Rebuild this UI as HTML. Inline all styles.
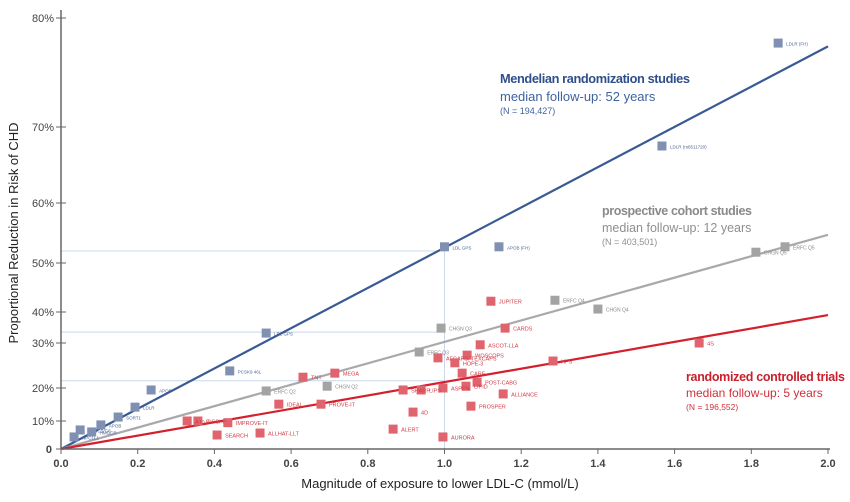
<!DOCTYPE html>
<html><head><meta charset="utf-8"><style>
body{margin:0;background:#fff;font-family:"Liberation Sans",sans-serif}
svg text{font-family:"Liberation Sans",sans-serif}
</style></head><body>
<svg id="c" width="850" height="497" xmlns="http://www.w3.org/2000/svg">
<g id="grid"></g><g id="lines"></g><g id="marks"></g><g id="axes"></g>
<text x="500" y="83" font-size="12.8" font-weight="bold" fill="#2f4f8a" textLength="190">Mendelian randomization studies</text>
<text x="500" y="101" font-size="13" fill="#3f63a0">median follow-up: 52 years</text>
<text x="500" y="114" font-size="9" fill="#3f63a0">(N = 194,427)</text>
<text x="602" y="215" font-size="12.5" font-weight="bold" fill="#8a8a8a" textLength="150">prospective cohort studies</text>
<text x="602" y="232" font-size="12.5" fill="#8f8f8f">median follow-up: 12 years</text>
<text x="602" y="245" font-size="9" fill="#8f8f8f">(N = 403,501)</text>
<text x="686" y="381" font-size="12.5" font-weight="bold" fill="#c8202c" textLength="159">randomized controlled trials</text>
<text x="686" y="397" font-size="12" fill="#d0303a">median follow-up: 5 years</text>
<text x="686" y="410" font-size="8.5" fill="#d0303a">(N = 196,552)</text>
<text x="440" y="488" font-size="13" text-anchor="middle" fill="#222">Magnitude of exposure to lower LDL-C (mmol/L)</text>
<text transform="translate(18,233) rotate(-90)" font-size="13" text-anchor="middle" fill="#222">Proportional Reduction in Risk of CHD</text>
</svg>
<script>
const yTickVals=[0,10,20,30,40,50,60,70,80];
const yTickPx=[449,421,388,343,312,263,203,127,18];
const yTickLabels=["0","10%","20%","30%","40%","50%","60%","70%","80%"];
const xTicks=[0,0.2,0.4,0.6,0.8,1.0,1.2,1.4,1.6,1.8,2.0];
const mrNames=["LDLR (FH)","LDLR (rs6511720)","LDL GPS","APOB (FH)","LDL GPS","PCSK9 46L","APOE","LDLR","SORT1","APOB","ABCG5/G8","NPC1L1","HMGCR"];
const mrX=[1.87,1.567,1.0,1.142,0.535,0.44,0.235,0.193,0.149,0.104,0.05,0.034,0.08];
const mrY=[77.7,67.5,52.7,52.7,33.2,23.8,19.4,14.2,11.2,8.6,6.8,4.3,6.1];
const coNames=["ERFC Q5","CHGN Q5","ERFC Q4","CHGN Q4","CHGN Q3","ERFC Q3","CHGN Q2","ERFC Q2"];
const coX=[1.888,1.812,1.288,1.4,0.991,0.934,0.694,0.535];
const coY=[52.7,51.8,42.4,40.6,34.8,28,20.4,19.1];
const rctNames=["4S","HPS","JUPITER","CARDS","ASCOT-LLA","WOSCOPS","AFCAPS/ TEXCAPS","HOPE-3","CARE","POST-CABG","LIPID","ALLIANCE","PROSPER","ASPEN","LIPS","4D","SHARP","ALERT","AURORA","MEGA","TNT","PROVE-IT","IDEAL","ALLHAT-LLT","SEARCH","IMPROVE-IT","GISSI-P","A to Z"];
const rctX=[1.664,1.283,1.121,1.158,1.093,1.059,0.983,1.027,1.046,1.085,1.056,1.153,1.069,0.996,0.939,0.918,0.892,0.866,0.996,0.714,0.631,0.678,0.568,0.519,0.407,0.435,0.357,0.329];
const rctY=[30,26,42.2,34.8,29.6,27.3,26.7,25.6,23.3,21.3,20.4,18.2,14.5,20,19.4,12.7,19.4,7.1,4.3,23.3,22.4,15.1,15.1,5.7,5,9.4,10,10];
const fitEnd=[77.4,54.7,39];
const refY=[52,33.5,21.6];
const NS="http://www.w3.org/2000/svg";
function X(v){return 61+v*383.5;}
function Y(v){for(let i=0;i<yTickVals.length-1;i++){if(v<=yTickVals[i+1]){const t=(v-yTickVals[i])/(yTickVals[i+1]-yTickVals[i]);return yTickPx[i]+t*(yTickPx[i+1]-yTickPx[i]);}}return yTickPx[yTickPx.length-1];}
function mk(tag,at,parent){const e=document.createElementNS(NS,tag);for(const k in at)e.setAttribute(k,at[k]);document.getElementById(parent).appendChild(e);return e;}
refY.forEach(v=>{const e=mk('line',{x1:X(0),x2:X(1),y1:Y(v),y2:Y(v),stroke:'#c9d8ea','stroke-width':1},'grid');

});
{const e=mk('line',{x1:X(1),x2:X(1),y1:Y(refY[0]),y2:Y(0),stroke:'#c9d8ea','stroke-width':1},'grid');

}
const lc=['#3a5a94','#a9a9a9','#d4202d'];const ln=['mr-fit-line','cohort-fit-line','rct-fit-line'];
fitEnd.forEach((v,i)=>{const e=mk('line',{x1:X(0),y1:Y(0),x2:X(2),y2:Y(v),stroke:lc[i],'stroke-width':2.2},'lines');

});
function series(names,xs,ys,fill,tc,fs,nm){names.forEach((n,i)=>{const cx=X(xs[i]),cy=Y(ys[i]);
const r=mk('rect',{x:cx-4.5,y:cy-4.5,width:9,height:9,fill:fill},'marks');


const t=mk('text',{x:cx+8,y:cy+2.5,'font-size':fs,fill:tc},'marks');t.textContent=n;

});}
series(coNames,coX,coY,'#a3a3a3','#8a8a8a',5,'cohort');
series(rctNames,rctX,rctY,'#e0646d','#d23a44',5.5,'rct');
series(mrNames,mrX,mrY,'#8090b2','#4a6396',4.5,'mr');
{const a=mk('line',{x1:61,y1:10,x2:61,y2:449,stroke:'#666','stroke-width':1.5},'axes');


const b=mk('line',{x1:61,y1:449,x2:830,y2:449,stroke:'#666','stroke-width':1.5},'axes');

}
yTickVals.forEach((v,i)=>{mk('line',{x1:56,x2:66,y1:Y(v),y2:Y(v),stroke:'#666'},'axes');
const t=mk('text',{x:i==0?52:54,y:Y(v)+4,'font-size':11,'text-anchor':'end',fill:'#444','font-weight':i==0?'bold':'normal'},'axes');t.textContent=yTickLabels[i];

});
xTicks.forEach(v=>{mk('line',{x1:X(v),x2:X(v),y1:449,y2:454,stroke:'#666'},'axes');
const t=mk('text',{x:X(v),y:467,'font-size':11,'text-anchor':'middle',fill:'#444','font-weight':'bold'},'axes');t.textContent=v.toFixed(1);

});
</script>
</body></html>
